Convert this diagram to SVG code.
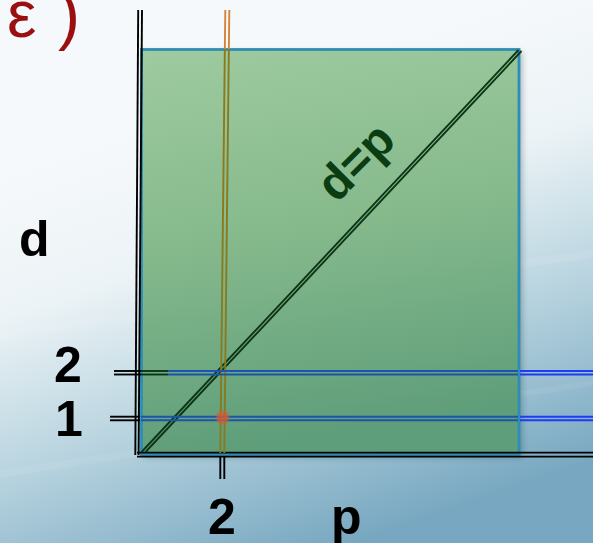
<svg xmlns="http://www.w3.org/2000/svg" width="593" height="543" viewBox="0 0 593 543">
  <defs>
    <linearGradient id="bg" gradientUnits="userSpaceOnUse" x1="150" y1="120" x2="300" y2="560">
      <stop offset="0" stop-color="#f6f9fb"/>
      <stop offset="0.3" stop-color="#ecf3f6"/>
      <stop offset="0.6" stop-color="#bcd6e1"/>
      <stop offset="1" stop-color="#78a8c1"/>
    </linearGradient>
    <linearGradient id="green" x1="0" y1="0" x2="0.15" y2="1">
      <stop offset="0" stop-color="#9ecb9f"/>
      <stop offset="0.5" stop-color="#85b98c"/>
      <stop offset="1" stop-color="#5f9e7a"/>
    </linearGradient>
    <filter id="shadow" x="-10%" y="-10%" width="120%" height="120%">
      <feGaussianBlur stdDeviation="3"/>
    </filter>
    <filter id="soft" x="-50%" y="-50%" width="200%" height="200%">
      <feGaussianBlur stdDeviation="1"/>
    </filter>
    <style>
      .lab { font-family: "Liberation Sans", Arial, sans-serif; font-weight: bold; fill: #000; }
      .ln { fill: none; stroke-width: 1.9; }
      .blk { stroke: #000; }
      .blkin { stroke: #0c3516; }
      .org { stroke: #d4843a; }
      .olv { stroke: #8a7a1e; }
      .bluo { stroke: #1e3cf4; }
      .blui { stroke: #1b54aa; }
    </style>
  </defs>

  <rect id="background" x="0" y="0" width="593" height="543" fill="url(#bg)"/>
  <polygon points="0,330 593,250 593,258 0,340" fill="#ffffff" opacity="0.08"/>
  <polygon points="0,470 593,380 593,386 0,478" fill="#ffffff" opacity="0.07"/>

  <text id="title" y="37" font-family="Liberation Sans, Arial, sans-serif" font-size="66" fill="#9a1010"><tspan x="7">ε</tspan><tspan x="58">)</tspan></text>

  <g id="plot-area">
    <rect x="144" y="52" width="378" height="405" fill="#1a3a40" opacity="0.35" filter="url(#shadow)"/>
    <rect x="141.5" y="49.5" width="377.5" height="405" fill="url(#green)" stroke="#2f8db5" stroke-width="2.8"/>
  </g>

  <g id="connectors">
    <g id="axis-d">
      <line class="ln blk" x1="138.2" y1="10" x2="135.3" y2="455"/>
      <line class="ln blk" x1="142" y1="10" x2="138.6" y2="455"/>
    </g>
    <g id="axis-p">
      <line class="ln blk" x1="137" y1="452.6" x2="593" y2="452.6"/>
      <line class="ln blk" x1="137" y1="456.6" x2="593" y2="456.6"/>
    </g>
    <g id="diag">
      <line class="ln blkin" x1="141.5" y1="452" x2="518.5" y2="50"/>
      <line class="ln blkin" x1="145.5" y1="452" x2="521.5" y2="51"/>
    </g>
    <g id="line-p2">
      <line class="ln org" x1="225.3" y1="10" x2="224.85" y2="49"/>
      <line class="ln org" x1="229.3" y1="10" x2="228.85" y2="49"/>
      <line class="ln olv" x1="224.85" y1="49" x2="220.3" y2="453"/>
      <line class="ln olv" x1="228.85" y1="49" x2="224.3" y2="453"/>
      <line class="ln blk" x1="220.3" y1="456" x2="220.3" y2="479"/>
      <line class="ln blk" x1="224.3" y1="456" x2="224.3" y2="479"/>
    </g>
    <g id="line-d2">
      <line class="ln blk" x1="114" y1="371" x2="141" y2="371"/>
      <line class="ln blk" x1="114" y1="374.5" x2="141" y2="374.5"/>
      <line class="ln blkin" x1="141" y1="371" x2="168" y2="371"/>
      <line class="ln blkin" x1="141" y1="374.5" x2="168" y2="374.5"/>
      <line class="ln blui" x1="168" y1="371" x2="518" y2="371"/>
      <line class="ln blui" x1="168" y1="374.5" x2="518" y2="374.5"/>
      <line class="ln bluo" x1="520" y1="371" x2="593" y2="371"/>
      <line class="ln bluo" x1="520" y1="374.5" x2="593" y2="374.5"/>
    </g>
    <g id="line-d1">
      <line class="ln blk" x1="110" y1="416.7" x2="140" y2="416.7"/>
      <line class="ln blk" x1="110" y1="420.3" x2="140" y2="420.3"/>
      <line class="ln blui" x1="141" y1="416.7" x2="518" y2="416.7"/>
      <line class="ln blui" x1="141" y1="420.3" x2="518" y2="420.3"/>
      <line class="ln bluo" x1="520" y1="416.7" x2="593" y2="416.7"/>
      <line class="ln bluo" x1="520" y1="420.3" x2="593" y2="420.3"/>
    </g>
  </g>

  <g id="point">
    <circle cx="222.7" cy="417.5" r="6.5" fill="#d65a32" opacity="0.8" filter="url(#soft)"/>
  </g>

  <g id="label-dp">
    <text transform="translate(358,164) rotate(-45)" x="0" y="13" text-anchor="middle" font-family="Liberation Sans, Arial, sans-serif" font-weight="bold" font-size="48" fill="#0b3d12">d=p</text>
  </g>

  <g id="labels">
    <text class="lab" x="19" y="256" font-size="50">d</text>
    <text class="lab" x="54" y="382" font-size="50">2</text>
    <text class="lab" x="55" y="436" font-size="50">1</text>
    <text class="lab" x="208" y="534" font-size="50">2</text>
    <text class="lab" x="331" y="534" font-size="50">p</text>
  </g>
</svg>
